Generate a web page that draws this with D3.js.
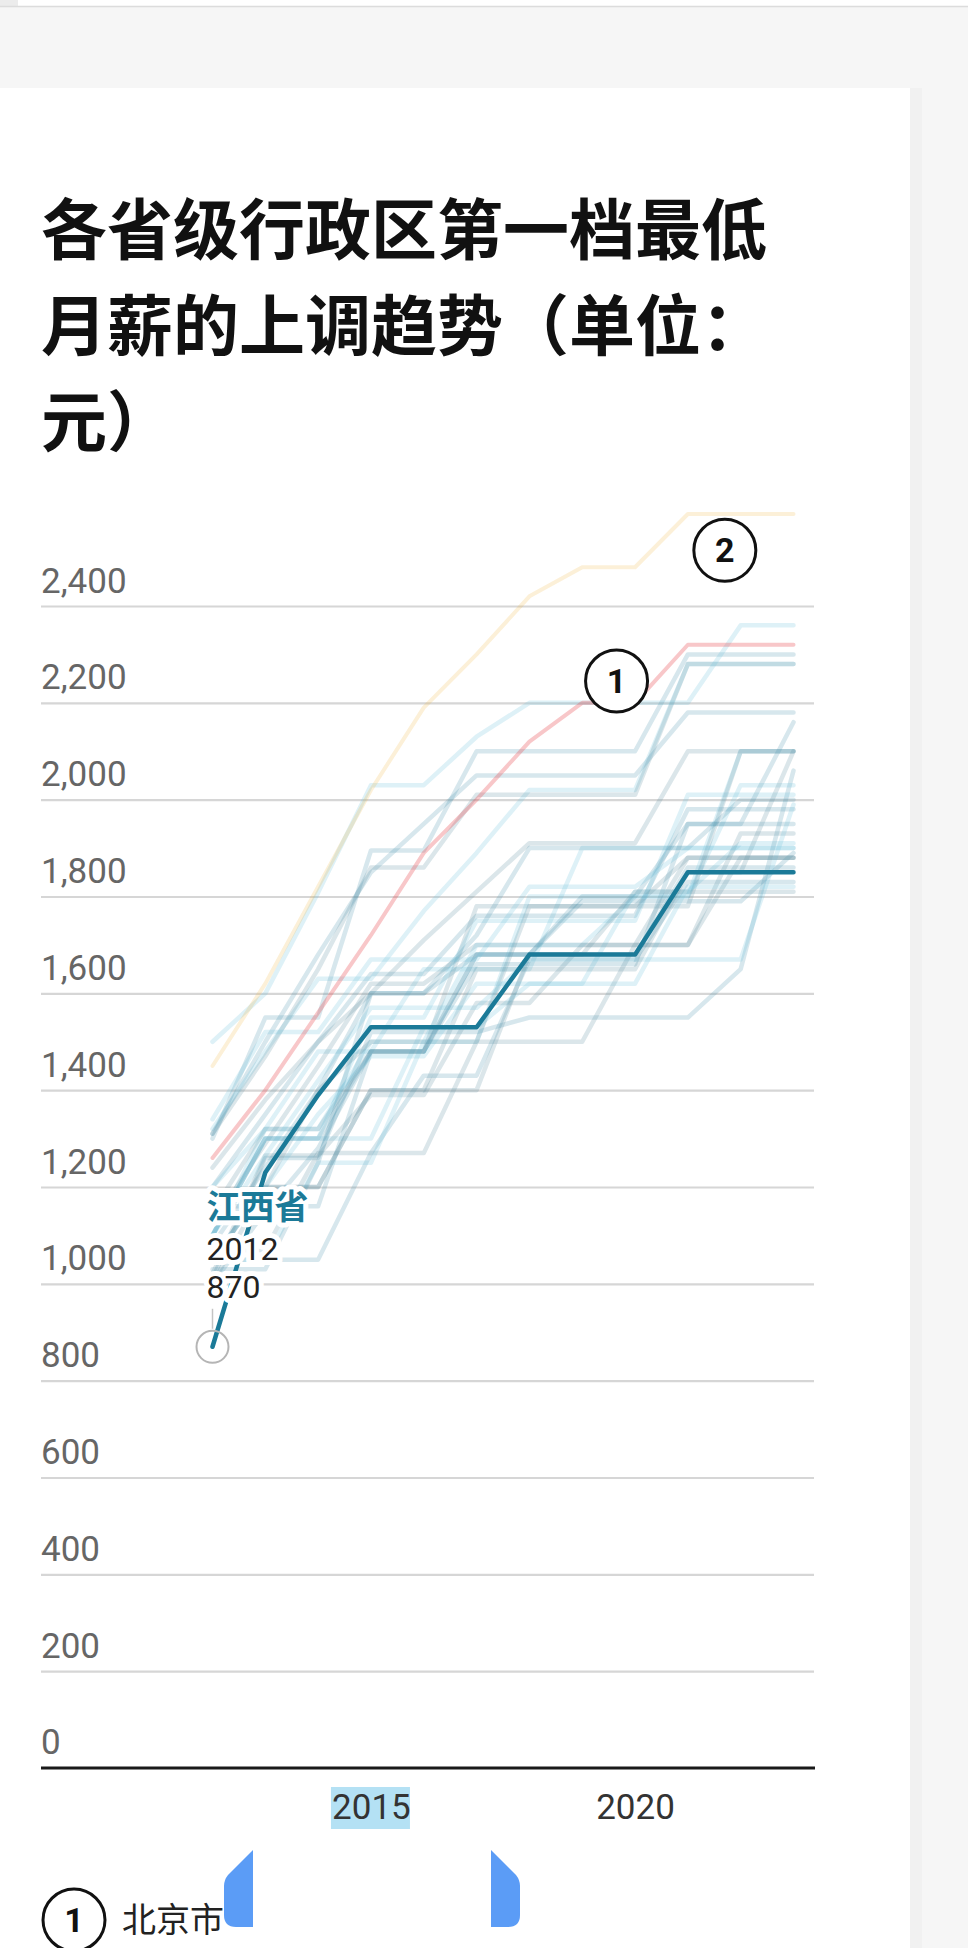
<!DOCTYPE html>
<html><head><meta charset="utf-8">
<script src="https://cdn.jsdelivr.net/npm/d3@7"></script>
<style>
html,body{margin:0;padding:0;background:#f6f6f6;overflow:hidden;}
svg{display:block;}
</style></head><body>
<svg id="c" width="968" height="1948"></svg>
<script>
// ---------------- data ----------------
const years = [2012,2013,2014,2015,2016,2017,2018,2019,2020,2021,2022,2023];
const provinces = ["北京市","天津市","河北省","山西省","内蒙古自治区","辽宁省","吉林省","黑龙江省","上海市","江苏省","浙江省","安徽省","福建省","江西省","山东省","河南省","湖北省","湖南省","广东省","深圳市","广西壮族自治区","海南省","重庆市","四川省","贵州省","云南省","西藏自治区","陕西省","甘肃省","青海省","宁夏回族自治区","新疆维吾尔自治区"];
const wages = [
  [1260,1400,1560,1720,1890,2000,2120,2200,2200,2320,2320,2320], // 北京
  [1310,1500,1680,1850,1950,2050,2050,2050,2050,2180,2180,2180], // 天津
  [1100,1320,1480,1480,1650,1650,1650,1900,1900,1900,1900,1900], // 河北
  [1125,1290,1450,1620,1620,1700,1700,1700,1700,1880,1880,1880], // 山西
  [1200,1350,1500,1640,1640,1760,1760,1760,1760,1980,1980,1980], // 内蒙古
  [1100,1300,1300,1300,1530,1530,1620,1620,1810,1810,1910,1910], // 辽宁
  [1150,1320,1320,1480,1480,1780,1780,1780,1780,1880,1880,1880], // 吉林
  [1160,1160,1160,1480,1480,1680,1680,1680,1680,1860,1860,1860], // 黑龙江
  [1450,1620,1820,2020,2190,2300,2420,2480,2480,2590,2590,2590], // 上海
  [1320,1480,1630,1630,1770,1890,2020,2020,2020,2280,2280,2280], // 江苏
  [1310,1470,1650,1860,1860,2010,2010,2010,2010,2280,2280,2280], // 浙江
  [1010,1260,1260,1520,1520,1520,1550,1550,1550,1550,1650,2060], // 安徽
  [1200,1320,1320,1500,1500,1700,1700,1700,1800,1800,2030,2030], // 福建
  [870,1230,1390,1530,1530,1530,1680,1680,1680,1850,1850,1850],  // 江西
  [1240,1380,1500,1600,1710,1810,1910,1910,1910,2100,2100,2100], // 山东
  [1080,1240,1400,1600,1600,1720,1900,1900,1900,1900,2000,2000], // 河南
  [1100,1300,1300,1550,1550,1750,1750,1750,1750,2010,2010,2010], // 湖北
  [1020,1265,1265,1390,1390,1580,1580,1700,1700,1700,1930,1930], // 湖南
  [1300,1550,1550,1895,1895,2100,2100,2100,2100,2300,2300,2300], // 广东
  [1500,1600,1808,2030,2030,2130,2200,2200,2200,2200,2360,2360], // 深圳
  [1000,1200,1200,1400,1400,1400,1680,1680,1810,1810,1810,1810], // 广西
  [1050,1050,1050,1270,1430,1430,1670,1670,1670,1830,1830,1830], // 海南
  [1050,1050,1250,1250,1500,1500,1800,1800,1800,1800,2100,2100], // 重庆
  [1050,1200,1400,1500,1500,1500,1780,1780,1780,1780,2100,2100], // 四川
  [1030,1030,1250,1600,1600,1680,1680,1790,1790,1790,1790,1890], // 贵州
  [1100,1265,1420,1570,1570,1570,1670,1670,1670,1670,1670,1990], // 云南
  [1050,1200,1200,1400,1400,1650,1650,1650,1650,1850,1850,2100], // 西藏
  [1000,1150,1280,1480,1480,1680,1680,1800,1800,1950,1950,2160], // 陕西
  [1050,1200,1350,1470,1470,1620,1620,1620,1620,1820,1820,1820], // 甘肃
  [1070,1070,1270,1270,1270,1500,1500,1500,1700,1700,1880,1880], // 青海
  [1100,1300,1300,1480,1480,1660,1660,1660,1660,1950,1950,1950], // 宁夏
  [1340,1520,1520,1670,1670,1670,1820,1820,1820,1900,1900,1900]  // 新疆
];
const yTicks = [0,200,400,600,800,1000,1200,1400,1600,1800,2000,2200,2400];
const xTicks = [2015, 2020];
const titleLines = ["各省级行政区第一档最低","月薪的上调趋势（单位：","元）"];
const focusName = "江西省";
const annotNames = ["北京市","上海市"];
const annotNums = ["1","2"];
const annotYears = [2019.65, 2021.7];
const annotValues = [2245, 2515];
const legendShown = 1; // only the first legend row is inside the picture
const bgPalette = ["#4a93ad","#69c0dc","#5d8ea0"];
const annotColors = ["#e8474c","#f2b53a"];
const annotOpacity = [0.3, 0.2];

// ---------------- drawing ----------------
const svg = d3.select("#c");
svg.append("rect").attr("x",0).attr("y",0).attr("width",968).attr("height",1948).attr("fill","#f6f6f6");
svg.append("rect").attr("x",0).attr("y",0).attr("width",968).attr("height",6).attr("fill","#ffffff");
svg.append("rect").attr("x",0).attr("y",0).attr("width",18).attr("height",6).attr("fill","#ececec");
svg.append("line").attr("x1",0).attr("x2",968).attr("y1",6.5).attr("y2",6.5).attr("stroke","#dcdcdc").attr("stroke-width",1.5);
svg.append("rect").attr("x",910).attr("y",88).attr("width",12).attr("height",1860).attr("fill","#f1f1f1");
svg.append("rect").attr("x",0).attr("y",88).attr("width",910).attr("height",1860).attr("fill","#ffffff");

// title
svg.append("g").selectAll("text").data(titleLines).join("text")
  .attr("x",41).attr("y",(d,i)=>254+i*96)
  .attr("font-family","'Noto Sans CJK SC','Noto Sans',sans-serif")
  .attr("font-weight",700).attr("font-size",66).attr("fill","#111")
  .text(d=>d);

const x = d3.scaleLinear().domain([2012,2023]).range([212.5,793.5]);
const y = d3.scaleLinear().domain([0,2400]).range([1768,606]);

// y grid + labels
const yAxis = d3.axisRight(y).tickValues(yTicks.filter(v=>v>0)).tickSize(773).tickFormat(d3.format(","));
const gy = svg.append("g").attr("transform","translate(41,0)").call(yAxis);
gy.select(".domain").remove();
gy.selectAll(".tick line").attr("stroke","#d6d6d6").attr("stroke-width",2.2);
gy.selectAll(".tick text").attr("x",0).attr("dy",-14).attr("text-anchor","start")
  .attr("font-family","Roboto,sans-serif").attr("font-size",35).attr("fill","#666");
svg.append("text").attr("x",41).attr("y",y(0)-14).attr("font-family","Roboto,sans-serif")
  .attr("font-size",35).attr("fill","#666").text(d3.format(",")(0));
// selection highlight behind 2015 (as in the reference screenshot)
svg.append("rect").attr("x",x(2015)-40).attr("y",1787).attr("width",79).attr("height",42).attr("fill","#b4e1f4");

// x axis
const xAxis = d3.axisBottom(x).tickValues(xTicks).tickSize(0).tickPadding(0).tickFormat(d3.format("d"));
const gx = svg.append("g").attr("transform","translate(0,"+y(0)+")").call(xAxis);
gx.select(".domain").remove();
gx.selectAll(".tick text").attr("y",51).attr("dy",0).attr("font-family","Roboto,sans-serif")
  .attr("font-size",35).attr("fill","#333");
svg.append("line").attr("x1",41).attr("x2",815).attr("y1",y(0)).attr("y2",y(0))
  .attr("stroke","#1a1a1a").attr("stroke-width",3);

// lines
const line = d3.line().x((d,i)=>x(years[i])).y(d=>y(d));
const series = provinces.map((n,i)=>({name:n, values:wages[i], i}));
const bg = series.filter(s=>s.name!==focusName && !annotNames.includes(s.name));
svg.append("g").selectAll("path").data(bg).join("path")
  .attr("d",d=>line(d.values)).attr("fill","none")
  .attr("stroke",(d,k)=>bgPalette[k%bgPalette.length]).attr("stroke-opacity",0.22)
  .attr("stroke-width",4.5).attr("stroke-linejoin","round").attr("stroke-linecap","round");
const ann = annotNames.map((n,k)=>series.find(s=>s.name===n));
svg.append("g").selectAll("path").data(ann).join("path")
  .attr("d",d=>line(d.values)).attr("fill","none")
  .attr("stroke",(d,k)=>annotColors[k]).attr("stroke-opacity",(d,k)=>annotOpacity[k])
  .attr("stroke-width",4).attr("stroke-linejoin","round").attr("stroke-linecap","round");
const focus = series.find(s=>s.name===focusName);
svg.append("path").attr("d",line(focus.values)).attr("fill","none")
  .attr("stroke","#1b7a98").attr("stroke-width",4.5).attr("stroke-linejoin","round").attr("stroke-linecap","round");

// focus label
const fx = x(years[0]), fy = y(focus.values[0]);
svg.append("circle").attr("cx",fx).attr("cy",fy).attr("r",16).attr("fill","none").attr("stroke","#b5b5b5").attr("stroke-width",2);
svg.append("line").attr("x1",fx).attr("x2",fx).attr("y1",fy-38).attr("y2",fy-18).attr("stroke","#c4c4c4").attr("stroke-width",1.5);
const labRows = [
  {t:focusName, dy:-128, w:700, c:"#1b7a98", s:34},
  {t:String(years[0]), dy:-87, w:400, c:"#222", s:32},
  {t:String(focus.values[0]), dy:-49, w:400, c:"#222", s:32}
];
svg.append("g").selectAll("text").data(labRows).join("text")
  .attr("x",fx-6).attr("y",d=>fy+d.dy)
  .attr("font-family","Roboto,'Noto Sans CJK SC',sans-serif")
  .attr("font-weight",d=>d.w).attr("font-size",d=>d.s).attr("fill",d=>d.c)
  .attr("stroke","#fff").attr("stroke-width",10).attr("stroke-linejoin","round")
  .attr("paint-order","stroke").text(d=>d.t);

// numbered annotation circles
const ag = svg.append("g").selectAll("g").data(annotNums).join("g")
  .attr("transform",(d,k)=>`translate(${x(annotYears[k])},${y(annotValues[k])})`);
ag.append("circle").attr("r",31).attr("fill","#fff").attr("stroke","#111").attr("stroke-width",3);
ag.append("text").attr("text-anchor","middle").attr("dy",12).attr("font-family","Roboto,sans-serif")
  .attr("font-weight",700).attr("font-size",34).attr("fill","#111").text(d=>d);

// legend (first row; the rest lies below the picture)
const lg = svg.append("g").selectAll("g").data(annotNums.slice(0,legendShown)).join("g")
  .attr("transform",(d,k)=>`translate(0,${1920+k*90})`);
lg.append("circle").attr("cx",74).attr("cy",0).attr("r",31).attr("fill","#fff").attr("stroke","#111").attr("stroke-width",3);
lg.append("text").attr("x",74).attr("y",12).attr("text-anchor","middle").attr("font-family","Roboto,sans-serif")
  .attr("font-weight",700).attr("font-size",34).attr("fill","#111").text(d=>d);
lg.append("text").attr("x",122).attr("y",12).attr("font-family","'Noto Sans CJK SC',sans-serif")
  .attr("font-size",34).attr("fill","#222").text((d,k)=>annotNames[k]);

// text-selection handles seen in the reference screenshot
svg.append("path").attr("fill","#5b9cf6")
  .attr("d","M253,1850 L253,1927 L236,1927 Q224,1927 224,1915 L224,1886 Q224,1880 228,1875 Z");
svg.append("path").attr("fill","#5b9cf6")
  .attr("d","M491,1850 L491,1927 L508,1927 Q520,1927 520,1915 L520,1886 Q520,1880 516,1875 Z");
</script>
</body></html>
